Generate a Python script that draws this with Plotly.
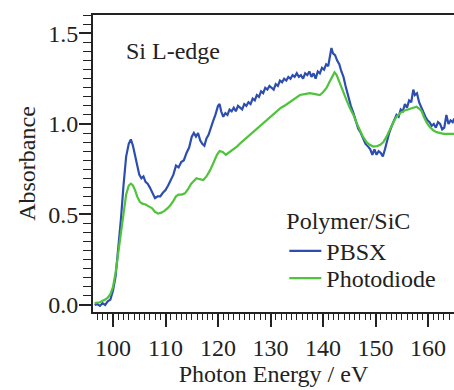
import plotly.graph_objects as go

# Si L-edge absorbance spectra, Polymer/SiC sample
energy_pbsx = [
    96.5, 97.0, 97.5, 98.0, 98.5, 99.0, 99.5, 100.0, 100.5, 101.0, 101.5, 102.0,
    102.5, 103.0, 103.4, 103.8, 104.2, 104.6, 105.0, 105.4, 105.8, 106.2, 106.6,
    107.0, 107.5, 108.0, 108.5, 109.0, 109.5, 110.0, 110.5, 111.0, 111.5, 112.0,
    112.5, 113.0, 113.5, 114.0, 114.5, 115.0, 115.4, 115.8, 116.2, 116.6, 117.0,
    117.4, 117.8, 118.2, 118.6, 119.0, 119.5, 120.0, 120.3, 120.6, 121.0, 121.4,
    121.8, 122.2, 122.6, 123.0, 123.4, 123.8, 124.2, 124.6, 125.0, 125.4, 125.8,
    126.2, 126.6, 127.0, 127.4, 127.8, 128.2, 128.6, 129.0, 129.4, 129.8, 130.2,
    130.6, 131.0, 131.4, 131.8, 132.2, 132.6, 133.0, 133.4, 133.8, 134.2, 134.6,
    135.0, 135.4, 135.8, 136.2, 136.6, 137.0, 137.4, 137.8, 138.2, 138.6, 139.0,
    139.4, 139.8, 140.2, 140.6, 141.0, 141.3, 141.6, 141.9, 142.3, 142.7, 143.1,
    143.5, 143.9, 144.3, 144.8, 145.3, 145.8, 146.3, 146.7, 147.2, 147.7, 148.1,
    148.6, 149.0, 149.4, 149.8, 150.2, 150.6, 151.0, 151.4, 151.8, 152.2, 152.6,
    153.1, 153.6, 154.0, 154.4, 154.8, 155.2, 155.6, 156.0, 156.4, 156.8, 157.2,
    157.5, 157.9, 158.3, 158.7, 159.1, 159.5, 159.9, 160.3, 160.7, 161.1, 161.5,
    161.9, 162.3, 162.7, 163.1, 163.5, 163.9, 164.3, 164.7, 165.0,
]
absorbance_pbsx = [
    0.00, 0.005, -0.005, 0.01, 0.0, 0.02, 0.03, 0.08, 0.16, 0.30, 0.47, 0.66,
    0.82, 0.89, 0.915, 0.88, 0.82, 0.76, 0.72, 0.70, 0.71, 0.68, 0.67,
    0.65, 0.62, 0.59, 0.60, 0.60, 0.62, 0.635, 0.66, 0.69, 0.72, 0.77,
    0.76, 0.79, 0.80, 0.84, 0.87, 0.93, 0.95, 0.93, 0.95, 0.91, 0.89,
    0.88, 0.92, 0.94, 0.97, 1.01, 1.05, 1.10, 1.11, 1.07, 1.04, 1.06,
    1.05, 1.08, 1.07, 1.09, 1.07, 1.10, 1.09, 1.08, 1.11, 1.10, 1.12,
    1.11, 1.14, 1.13, 1.16, 1.15, 1.18, 1.17, 1.20, 1.19, 1.21, 1.20,
    1.19, 1.22, 1.21, 1.24, 1.23, 1.25, 1.24, 1.26, 1.25, 1.27, 1.26,
    1.28, 1.26, 1.27, 1.25, 1.28, 1.27, 1.29, 1.26, 1.28, 1.25, 1.29,
    1.28, 1.31, 1.30, 1.33, 1.32, 1.37, 1.42, 1.39, 1.38, 1.35, 1.33,
    1.29, 1.26, 1.21, 1.15, 1.10, 1.06, 1.01, 0.975, 0.95, 0.92, 0.89,
    0.875, 0.86, 0.83, 0.86, 0.83, 0.85, 0.84, 0.82, 0.86, 0.91, 0.95,
    0.99, 1.03, 1.05, 1.04, 1.08, 1.07, 1.11, 1.09, 1.13, 1.12, 1.19,
    1.16, 1.17, 1.12, 1.09, 1.06, 1.04, 1.02, 1.01, 0.99, 1.00, 0.98,
    1.01, 1.00, 0.97, 0.98, 1.05, 1.00, 1.02, 1.01, 1.03,
]

energy_diode = [
    96.5, 97.5, 98.5, 99.0, 99.5, 100.0, 100.5, 101.0, 101.5, 102.0, 102.5,
    103.0, 103.4, 103.8, 104.2, 104.6, 105.1, 105.6, 106.2, 106.8, 107.4, 108.0,
    108.6, 109.2, 109.8, 110.4, 110.9, 111.5, 112.0, 112.5, 113.1, 113.7, 114.3,
    114.9, 115.5, 115.9, 116.5, 117.2, 117.8, 118.5, 119.2, 119.8, 120.3, 120.9,
    121.5, 122.0, 122.8, 123.6, 124.5, 125.3, 126.1, 127.0, 127.8, 128.6, 129.5,
    130.3, 131.2, 132.0, 132.9, 133.7, 134.6, 135.6, 136.5, 137.5, 138.5, 139.4,
    140.0, 140.7, 141.2, 141.7, 142.2, 142.6, 143.2, 143.8, 144.5, 145.1, 145.8,
    146.4, 147.0, 147.6, 148.3, 148.9, 149.6, 150.3, 150.9, 151.5, 152.1, 152.7,
    153.4, 154.0, 154.7, 155.6, 156.6, 157.3, 157.8, 158.3, 158.8, 159.2, 159.7,
    160.3, 161.0, 161.6, 162.3, 163.0, 164.0, 165.0,
]
absorbance_diode = [
    0.01, 0.015, 0.03, 0.04, 0.06, 0.10, 0.18, 0.29, 0.41, 0.52, 0.61,
    0.66, 0.67, 0.66, 0.635, 0.60, 0.57, 0.56, 0.555, 0.545, 0.535, 0.515,
    0.505, 0.51, 0.52, 0.535, 0.55, 0.575, 0.60, 0.61, 0.61, 0.617, 0.64,
    0.67, 0.69, 0.70, 0.695, 0.69, 0.71, 0.745, 0.79, 0.83, 0.85, 0.845,
    0.83, 0.84, 0.86, 0.875, 0.90, 0.92, 0.94, 0.96, 0.98, 1.00, 1.025,
    1.045, 1.07, 1.09, 1.105, 1.12, 1.14, 1.16, 1.165, 1.17, 1.165, 1.16,
    1.175, 1.20, 1.23, 1.26, 1.285, 1.27, 1.225, 1.175, 1.13, 1.09, 1.05,
    1.005, 0.965, 0.93, 0.90, 0.885, 0.875, 0.878, 0.885, 0.90, 0.93, 0.97,
    1.01, 1.04, 1.06, 1.075, 1.085, 1.09, 1.095, 1.085, 1.07, 1.04, 1.01,
    0.985, 0.965, 0.955, 0.95, 0.945, 0.945, 0.945,
]

y_labels = {0: "0.0", 10: "0.5", 20: "1.0", 30: "1.5"}

SERIF = "Liberation Serif"
INK = "#222222"
FS = 24
X_RANGE = [96.19, 164.95]
Y_RANGE = [-0.0387, 1.602]
# every 0.05 on the absorbance axis, labelled every 0.5
Y_TICKS = [round(0.05 * k, 2) for k in range(33)]
Y_TEXT = [y_labels.get(k, "") for k in range(33)]

fig = go.Figure()
fig.add_trace(go.Scatter(
    x=energy_pbsx, y=absorbance_pbsx, mode="lines", name="PBSX",
    line=dict(color="#2d4eb0", width=2.2), legend="legend",
))
fig.add_trace(go.Scatter(
    x=energy_diode, y=absorbance_diode, mode="lines", name="Photodiode",
    line=dict(color="#4fc43a", width=2.2), legend="legend2",
))
# empty traces that carry the overlay tick axes
fig.add_trace(go.Scatter(x=[], y=[], xaxis="x2", yaxis="y",
                         showlegend=False, hoverinfo="skip"))
fig.add_trace(go.Scatter(x=[], y=[], xaxis="x", yaxis="y2",
                         showlegend=False, hoverinfo="skip"))

legend_font = dict(family=SERIF, size=FS, color=INK)

fig.update_layout(
    width=454, height=390,
    margin=dict(l=93, r=0, t=15, b=78),
    paper_bgcolor="white", plot_bgcolor="white",
    font=dict(family=SERIF, size=FS, color=INK),
    showlegend=True,
    legend=dict(
        title=dict(text="Polymer/SiC", font=legend_font),
        x=0.53, y=0.385, xanchor="left", yanchor="top",
        bgcolor="rgba(0,0,0,0)", font=legend_font, itemwidth=32,
    ),
    legend2=dict(
        x=0.53, y=0.113, xanchor="left", yanchor="middle",
        bgcolor="rgba(0,0,0,0)", font=legend_font, itemwidth=32,
    ),
    annotations=[dict(
        text="Si L-edge", xref="paper", yref="paper", x=0.085, y=0.88,
        xanchor="left", yanchor="middle", showarrow=False,
        font=dict(family=SERIF, size=FS, color=INK),
    )],
    xaxis=dict(
        range=X_RANGE,
        tickmode="linear", tick0=100, dtick=10,
        ticks="outside", ticklen=13, tickwidth=1.5, tickcolor=INK,
        showline=True, linecolor=INK, linewidth=2, mirror=True,
        showgrid=False, zeroline=False,
        title=dict(text="Photon Energy / eV", standoff=4,
                   font=dict(family=SERIF, size=FS, color=INK)),
        tickfont=dict(family=SERIF, size=FS, color=INK),
    ),
    yaxis=dict(
        range=Y_RANGE,
        tickmode="array", tickvals=Y_TICKS, ticktext=Y_TEXT,
        ticks="outside", ticklen=8, tickwidth=1.3, tickcolor=INK,
        showline=True, linecolor=INK, linewidth=2, mirror=False,
        showgrid=False, zeroline=False,
        title=dict(text="Absorbance", standoff=6,
                   font=dict(family=SERIF, size=FS, color=INK)),
        tickfont=dict(family=SERIF, size=FS, color=INK),
    ),
    xaxis2=dict(
        range=X_RANGE, overlaying="x", anchor="y", side="bottom",
        tickmode="linear", tick0=100, dtick=1,
        ticks="outside", ticklen=7, tickwidth=1.3, tickcolor=INK,
        showticklabels=False, showline=False, showgrid=False, zeroline=False,
    ),
    yaxis2=dict(
        range=Y_RANGE, overlaying="y", anchor="x", side="left",
        tickmode="linear", tick0=0, dtick=0.5,
        ticks="outside", ticklen=13, tickwidth=1.5, tickcolor=INK,
        showticklabels=False, showline=False, showgrid=False, zeroline=False,
    ),
)

fig.write_html("out.html")
